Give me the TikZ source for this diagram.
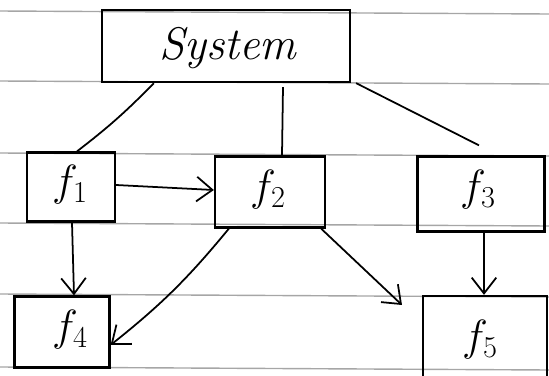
\documentclass[tikz,border=0pt]{standalone}
\usetikzlibrary{arrows.meta}
\begin{document}
\begin{tikzpicture}[x=0.02cm,y=-0.02cm,
  box/.style={draw,line width=1.3pt,inner sep=0pt},
  conn/.style={line width=1pt},
  arr/.style={line width=1pt,-{Straight Barb[length=9pt,width=14pt]}},
  rule/.style={gray!70,line width=0.8pt},
  lbl/.style={font=\fontsize{26}{28}\selectfont}]
\useasboundingbox (0,0) rectangle (549,376);
% ruled paper lines
\foreach \y in {11,81,153,223,294,367} \draw[rule] (0,\y) -- (549,\y+3);
% boxes
\node[box,minimum width=248*0.02cm,minimum height=72*0.02cm] (sys) at (226,46) {};
\node[lbl] (syst) at (228,48) {\itshape System};
\node[box,minimum width=88*0.02cm,minimum height=69*0.02cm] (f1) at (71,187) {};
\node[lbl] at (70,185) {$f_1$};
\node[box,minimum width=110*0.02cm,minimum height=71*0.02cm] (f2) at (270,192) {};
\node[lbl] at (268,190) {$f_2$};
\node[box,minimum width=127*0.02cm,minimum height=75*0.02cm] (f3) at (481,194) {};
\node[lbl] at (478,190) {$f_3$};
\node[box,minimum width=95*0.02cm,minimum height=71*0.02cm] (f4) at (62,332) {};
\node[lbl] at (70,330) {$f_4$};
\node[box,minimum width=124*0.02cm,minimum height=82*0.02cm] (f5) at (485,337) {};
\node[lbl] at (480,340) {$f_5$};
\coordinate (e25) at (402,305);
% connectors
\draw[conn] ([xshift=53*0.02cm]sys.south west) to[bend left=4] ([xshift=6*0.02cm]f1.north);
\draw[conn] ([xshift=57*0.02cm,yshift=-4*0.02cm]sys.south) -- ([xshift=12*0.02cm]f2.north);
\draw[conn] ([xshift=5*0.02cm]sys.south east) -- ([xshift=-2*0.02cm,yshift=10*0.02cm]f3.north);
\draw[arr] ([yshift=2*0.02cm]f1.east) -- ([yshift=2*0.02cm]f2.west);
\draw[arr] ([xshift=1*0.02cm]f1.south) -- ([xshift=12*0.02cm]f4.north);
\draw[arr] ([xshift=15*0.02cm]f2.south west) to[bend left=6] ([yshift=-13*0.02cm]f4.east);
\draw[arr] ([xshift=-5*0.02cm]f2.south east) -- (e25);
\draw[arr] ([xshift=3*0.02cm]f3.south) -- ([xshift=-1*0.02cm]f5.north);
\end{tikzpicture}
\end{document}
